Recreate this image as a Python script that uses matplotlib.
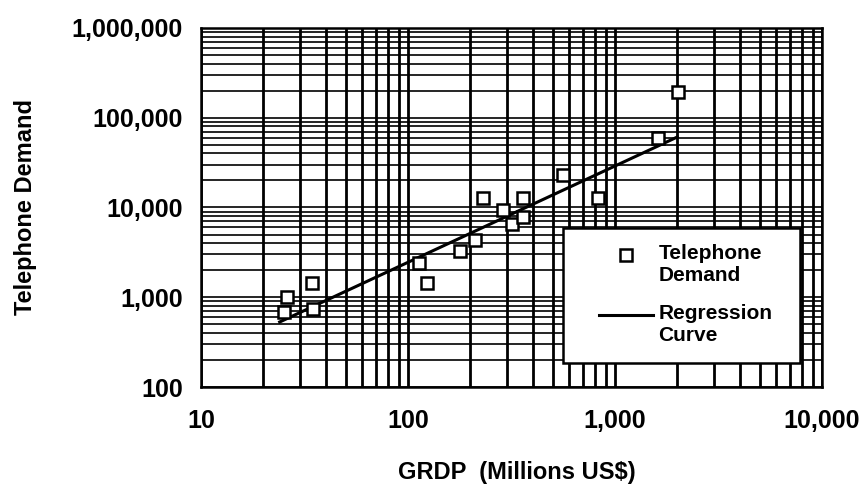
import matplotlib
matplotlib.use('Agg')
import matplotlib.pyplot as plt
from matplotlib.ticker import FixedLocator, FuncFormatter, LogLocator, NullFormatter
from matplotlib.patches import Rectangle
from matplotlib.legend_handler import HandlerLine2D

plt.rcParams['font.family'] = ['Liberation Sans', 'DejaVu Sans']
plt.rcParams['font.weight'] = 'bold'

# GRDP (millions US$) vs. telephone demand per region
gdp = [25.2, 26.0, 34.4, 34.8, 113, 123.5, 178, 211, 230, 288, 318, 360, 360, 561, 828, 1614, 2015]
demand = [686, 1007, 1442, 740, 2410, 1442, 3275, 4345, 12760, 9375, 6550, 12760, 7835, 23000, 12760, 59500, 193600]

# fitted regression line, end points
reg_gdp = [24, 2000]
reg_demand = [530, 61000]

x_ticks = [10, 100, 1000, 10000]
y_ticks = [100, 1000, 10000, 100000, 1000000]


class FirstLineHandler(HandlerLine2D):
    """Legend handle lined up with the first line of a two-line label."""
    def __init__(self, shift, **kw):
        super().__init__(**kw)
        self.shift = shift

    def create_artists(self, legend, orig_handle, xdescent, ydescent,
                       width, height, fontsize, trans):
        artists = super().create_artists(legend, orig_handle, xdescent, ydescent,
                                         width, height, fontsize, trans)
        for a in artists:
            a.set_ydata([y + self.shift for y in a.get_ydata()])
        return artists


fig = plt.figure(figsize=(8.64, 4.86), dpi=100)
ax = fig.add_axes([0.2326, 0.2037, 0.7188, 0.7387])

pts, = ax.plot(gdp, demand, linestyle='none', marker='s', markersize=9,
               markerfacecolor='white', markeredgecolor='black', markeredgewidth=1.8,
               label='Telephone\nDemand', zorder=4)
reg, = ax.plot(reg_gdp, reg_demand, color='black', linewidth=2.2,
               label='Regression\nCurve', zorder=3)

ax.set_xscale('log')
ax.set_yscale('log')
ax.set_xlim(10, 10000)
ax.set_ylim(100, 1000000)

fmt = FuncFormatter(lambda v, _: f'{int(round(v)):,}')
ax.xaxis.set_major_locator(FixedLocator(x_ticks))
ax.yaxis.set_major_locator(FixedLocator(y_ticks))
ax.xaxis.set_major_formatter(fmt)
ax.yaxis.set_major_formatter(fmt)
ax.xaxis.set_minor_locator(LogLocator(base=10, subs=range(2, 10)))
ax.yaxis.set_minor_locator(LogLocator(base=10, subs=range(2, 10), numticks=20))
ax.xaxis.set_minor_formatter(NullFormatter())
ax.yaxis.set_minor_formatter(NullFormatter())

ax.tick_params(which='both', length=0)
ax.tick_params(axis='x', pad=16, labelsize=18)
ax.tick_params(axis='y', pad=13, labelsize=18)

ax.grid(True, which='both', axis='x', color='black', linewidth=2.0)
ax.grid(True, which='both', axis='y', color='black', linewidth=1.2)
ax.set_axisbelow(True)
for s in ax.spines.values():
    s.set_linewidth(1.8)

ax.set_xlabel('GRDP  (Millions US$)', fontsize=17, fontweight='bold', va='center')
ax.set_ylabel('Telephone Demand', fontsize=17, fontweight='bold', va='center')
ax.xaxis.set_label_coords(0.509, -0.237)
ax.yaxis.set_label_coords(-0.283, 0.5)

# legend box drawn separately so the handles can sit further in
ax.add_patch(Rectangle((0.583, 0.067), 0.382, 0.376, transform=ax.transAxes,
                       facecolor='white', edgecolor='black', linewidth=1.8, zorder=5))
leg = ax.legend(handles=[pts, reg], loc='upper left', bbox_to_anchor=(0.614, 0.445),
                frameon=False, fontsize=15, handlelength=2.6, handletextpad=0.25,
                labelspacing=0.9, borderpad=0.3,
                handler_map={pts: FirstLineHandler(7), reg: FirstLineHandler(7)})
leg.set_zorder(6)

fig.savefig('out.png', dpi=100)
